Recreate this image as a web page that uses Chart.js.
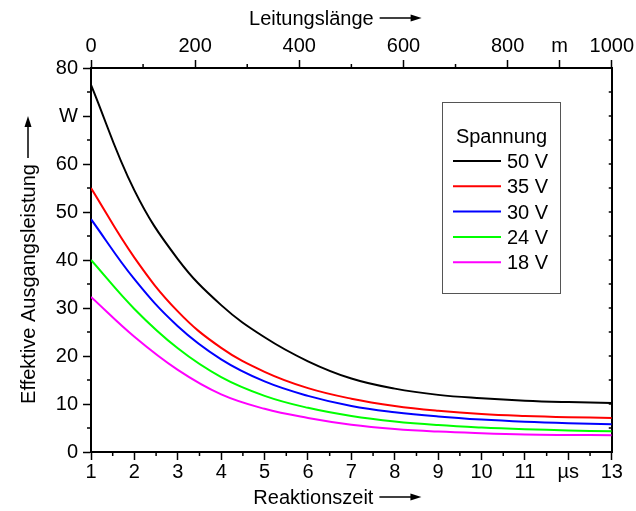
<!DOCTYPE html>
<html>
<head>
<meta charset="utf-8">
<script src="https://cdn.jsdelivr.net/npm/chart.js@4.4.1/dist/chart.umd.min.js"></script>
<style>
html, body { margin: 0; padding: 0; background: #fff; }
</style>
</head>
<body>
<canvas id="chart" width="636" height="511"></canvas>
<script>
// Reaktionszeit in µs (untere Achse)
var zeit = [1, 2, 3, 4, 5, 6, 7, 8, 9, 10, 11, 12, 13]
// Effektive Ausgangsleistung in W, je Spannung
var leistung50 = [76.5, 54.5, 40.2, 30.6, 23.9, 18.9, 15.3, 13.2, 11.9, 11.2, 10.7, 10.4, 10.2]
var leistung35 = [55, 40.5, 29.3, 21.7, 16.7, 13.3, 11.1, 9.6, 8.6, 7.9, 7.5, 7.25, 7.1]
var leistung30 = [48.5, 36, 26.2, 19.3, 14.7, 11.7, 9.6, 8.3, 7.4, 6.75, 6.3, 6.0, 5.8]
var leistung24 = [40, 29.8, 21.6, 15.6, 11.7, 9.2, 7.5, 6.35, 5.6, 5.1, 4.75, 4.5, 4.3]
var leistung18 = [32.3, 24, 17.1, 12.0, 9.0, 7.1, 5.7, 4.8, 4.25, 3.9, 3.65, 3.55, 3.5]

var spannungen = ['50 V', '35 V', '30 V', '24 V', '18 V']
var farben = ['#000000', '#ff0000', '#0000ff', '#00ff00', '#ff00ff']

// Achsenbeschriftungen (Einheit steht an Stelle einer Zahl)
var xTickWerte = [1, 2, 3, 4, 5, 6, 7, 8, 9, 10, 11, 12, 13]
var xTickText = ['1', '2', '3', '4', '5', '6', '7', '8', '9', '10', '11', 'µs', '13']
var laengeTickWerte = [0, 200, 400, 600, 800, 900, 1000]
var laengeTickText = ['0', '200', '400', '600', '800', 'm', '1000']
var yTickWerte = [0, 10, 20, 30, 40, 50, 60, 70, 80]
var yTickText = ['0', '10', '20', '30', '40', '50', '60', 'W', '80']

var schrift = '"Liberation Sans", Arial, Helvetica, sans-serif'

function punkte(werte) {
    return zeit.map(function (x, i) { return { x: x, y: werte[i] } })
}

var reihen = [leistung50, leistung35, leistung30, leistung24, leistung18]
var datasets = reihen.map(function (werte, i) {
    return {
        label: spannungen[i],
        data: punkte(werte),
        borderColor: farben[i],
        backgroundColor: farben[i],
        borderWidth: 2,
        pointRadius: 0,
        fill: false,
        tension: 0.4,
        xAxisID: 'x',
        yAxisID: 'y'
    }
})

function setTicks(werte) {
    return function (scale) {
        scale.ticks = werte.map(function (v) { return { value: v } })
    }
}

function achse(position, min, max, werte, texte, padding, groesse) {
    return {
        type: 'linear',
        position: position,
        min: min,
        max: max,
        afterBuildTicks: setTicks(werte),
        afterFit: function (scale) {
            if (position === 'left' || position === 'right') scale.width = groesse
            else scale.height = groesse
        },
        ticks: {
            autoSkip: false,
            maxRotation: 0,
            padding: padding,
            color: '#000',
            font: { family: schrift, size: 20 },
            callback: function (v, i) { return texte[i] }
        },
        grid: {
            display: true,
            drawOnChartArea: false,
            drawTicks: true,
            tickLength: 8,
            tickWidth: 1.5,
            tickColor: '#000'
        },
        border: { display: true, color: '#000', width: 2 }
    }
}

// Nebenteilstriche, Achsentitel mit Pfeil und Legende
var extras = {
    id: 'extras',
    afterDraw: function (chart) {
        var ctx = chart.ctx
        var area = chart.chartArea
        var sx = chart.scales.x, sl = chart.scales.x2, sy = chart.scales.y
        ctx.save()
        ctx.strokeStyle = '#000'
        ctx.fillStyle = '#000'
        ctx.lineWidth = 1.5

        var v, p
        for (v = 1.5; v < 13; v += 1) {
            p = sx.getPixelForValue(v)
            ctx.beginPath(); ctx.moveTo(p, area.bottom); ctx.lineTo(p, area.bottom + 4); ctx.stroke()
        }
        for (v = 100; v < 800; v += 200) {
            p = sl.getPixelForValue(v)
            ctx.beginPath(); ctx.moveTo(p, area.top); ctx.lineTo(p, area.top - 4); ctx.stroke()
        }
        for (v = 5; v < 80; v += 10) {
            p = sy.getPixelForValue(v)
            ctx.beginPath(); ctx.moveTo(area.left, p); ctx.lineTo(area.left - 4, p); ctx.stroke()
        }
        for (v = 5; v < 80; v += 5) {
            p = sy.getPixelForValue(v)
            ctx.beginPath(); ctx.moveTo(area.right, p); ctx.lineTo(area.right - 3, p); ctx.stroke()
        }

        ctx.font = '20px ' + schrift
        ctx.textAlign = 'left'
        ctx.textBaseline = 'alphabetic'
        ctx.lineWidth = 1.5
        var mitte = (area.left + area.right) / 2 - 16
        titel(ctx, 'Leitungslänge', mitte, 25)
        titel(ctx, 'Reaktionszeit', mitte + 2, 504)
        ctx.save()
        ctx.translate(35, (area.top + area.bottom) / 2)
        ctx.rotate(-Math.PI / 2)
        titel(ctx, 'Effektive Ausgangsleistung', 0, 0)
        ctx.restore()

        // Legende
        ctx.strokeStyle = '#555'
        ctx.lineWidth = 1
        ctx.strokeRect(442.5, 102.5, 118, 191)
        ctx.fillStyle = '#000'
        ctx.textAlign = 'center'
        ctx.fillText('Spannung', 501.5, 143)
        ctx.textAlign = 'left'
        chart.data.datasets.forEach(function (ds, i) {
            var y = 161 + i * 25.3
            ctx.strokeStyle = ds.borderColor
            ctx.lineWidth = 2
            ctx.beginPath(); ctx.moveTo(453, y); ctx.lineTo(501, y); ctx.stroke()
            ctx.fillText(ds.label, 507, y + 7)
        })
        ctx.restore()
    }
}

function titel(ctx, text, cx, y) {
    var w = ctx.measureText(text).width
    var gesamt = w + 6 + 42
    var x = cx - gesamt / 2
    ctx.fillText(text, x, y)
    var x1 = x + w + 6, x2 = x + gesamt, ya = y - 7
    ctx.beginPath(); ctx.moveTo(x1, ya); ctx.lineTo(x2 - 6, ya); ctx.stroke()
    ctx.beginPath()
    ctx.moveTo(x2, ya)
    ctx.lineTo(x2 - 11, ya - 3.5)
    ctx.lineTo(x2 - 11, ya + 3.5)
    ctx.closePath()
    ctx.fill()
}

var yRechts = achse('right', 0, 80, yTickWerte, yTickText, 0, 24)
yRechts.ticks.display = false
yRechts.grid.drawTicks = false

new Chart(document.getElementById('chart'), {
    type: 'line',
    data: { datasets: datasets },
    options: {
        responsive: false,
        animation: false,
        layout: { padding: 0 },
        plugins: { legend: { display: false }, tooltip: { enabled: false } },
        scales: {
            x: achse('bottom', 1, 13, xTickWerte, xTickText, 0, 59),
            x2: achse('top', 0, 1000, laengeTickWerte, laengeTickText, 2, 68),
            y: achse('left', 0, 80, yTickWerte, yTickText, 5, 91),
            y2: yRechts
        }
    },
    plugins: [extras]
})
</script>
</body>
</html>
